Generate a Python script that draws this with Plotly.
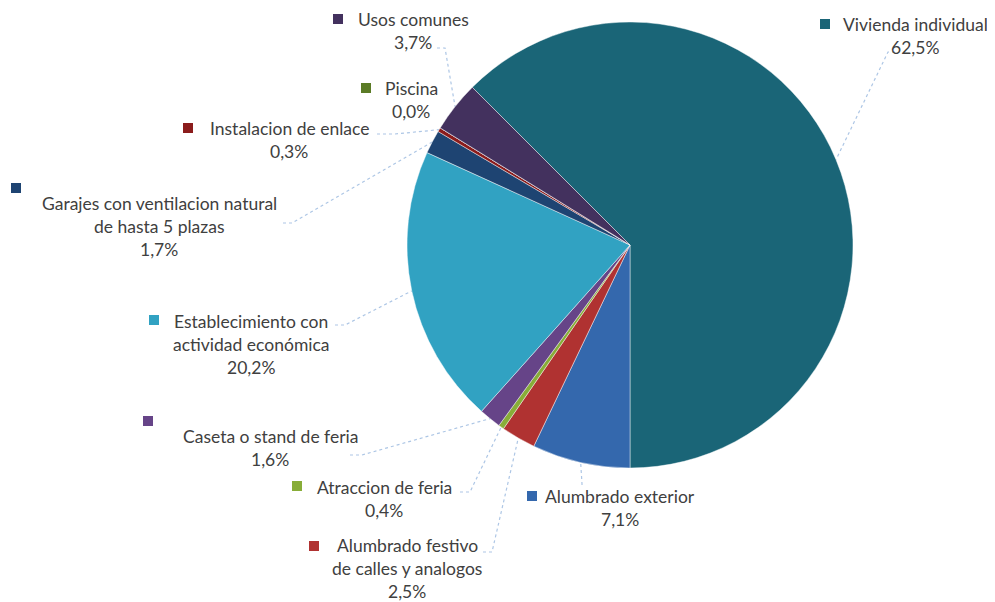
import plotly.graph_objects as go
import numpy as np

# slice data, clockwise from the upper-left edge
labels = [
    "Vivienda individual",
    "Alumbrado exterior",
    "Alumbrado festivo\nde calles y analogos",
    "Atraccion de feria",
    "Caseta o stand de feria",
    "Establecimiento con\nactividad económica",
    "Garajes con ventilacion natural\nde hasta 5 plazas",
    "Instalacion de enlace",
    "Piscina",
    "Usos comunes",
]
values = [62.5, 7.1, 2.5, 0.4, 1.6, 20.2, 1.7, 0.3, 0.0, 3.7]
colors = [
    "#1a6577", "#3468ad", "#b03231", "#88ad38", "#664488",
    "#31a2c2", "#1e4472", "#8b1c1c", "#5b7b26", "#43315e",
]

# ---- layout (pixels of the page) ----
W, H = 995, 602
OFF = 8              # page body margin, compensated so page pixels line up
FW, FH = W - OFF, H - OFF
CX, CY, R = 630, 245, 223
START = -45          # first slice starts 45 deg left of 12 o'clock
LINE_H = 23.3
TEXT_COLOR = "#404040"
FONT = "Lato"
FONT_SIZE = 17.5

# label block: text centre x, first line y, key square x, key square y
label_pos = [
    (915, 24, 825, 24),
    (620, 496, 532, 496),
    (407, 545, 314, 546),
    (384, 487, 297, 486),
    (270, 436, 148, 421),
    (251, 321, 154, 320),
    (159, 203, 16, 188),
    (289, 128, 188, 128),
    (411, 88, 366, 88),
    (413, 19, 338, 19),
]
# leader line: label end point and elbow, None = no leader
leader_pts = [
    [(895, 52), (888, 52)],
    [(582, 485), (582, 484)],
    [(483, 552), (492, 552)],
    [(460, 492), (470, 492)],
    [(350, 455), (362, 455)],
    [(335, 325), (345, 325)],
    [(283, 223), (292, 223)],
    [(377, 134), (395, 134)],
    None,
    [(437, 48), (445, 48)],
]

fig = go.Figure()

fig.add_trace(go.Pie(
    labels=[l.replace("\n", " ") for l in labels],
    values=values,
    sort=False,
    direction="clockwise",
    rotation=START,
    marker=dict(colors=colors, line=dict(color="rgba(255,255,255,0.55)", width=0.8)),
    textinfo="none",
    hoverinfo="label+percent",
    showlegend=False,
    domain=dict(
        x=[(CX - R - OFF) / FW, (CX + R - OFF) / FW],
        y=[1 - (CY + R - OFF) / FH, 1 - (CY - R - OFF) / FH],
    ),
))

# leader lines from slice mid-angle on the rim to the label
total = sum(values)
cum = 0.0
for i, v in enumerate(values):
    mid = START + 360 * (cum + v / 2) / total
    cum += v
    if leader_pts[i] is None:
        continue
    a = np.radians(mid)
    rim = (CX + R * np.sin(a), CY - R * np.cos(a))
    pts = leader_pts[i] + [rim]
    fig.add_trace(go.Scatter(
        x=[p[0] for p in pts], y=[p[1] for p in pts],
        mode="lines", line=dict(color="#adc6e5", width=1.2, dash="dot"),
        hoverinfo="skip", showlegend=False,
    ))

# key squares
fig.add_trace(go.Scatter(
    x=[p[2] for p in label_pos], y=[p[3] for p in label_pos],
    mode="markers",
    marker=dict(symbol="square", size=10, color=colors, line=dict(width=0)),
    hoverinfo="skip", showlegend=False,
))

# label text, one annotation per line
for i, lab in enumerate(labels):
    pct = f"{values[i]:.1f}%".replace(".", ",")
    lines = lab.split("\n") + [pct]
    x, y0 = label_pos[i][0], label_pos[i][1]
    for j, t in enumerate(lines):
        fig.add_annotation(
            x=x, y=y0 + j * LINE_H, text=t, showarrow=False,
            xanchor="center", yanchor="middle",
            font=dict(family=FONT, size=FONT_SIZE, color=TEXT_COLOR),
        )

fig.update_layout(
    width=FW, height=FH,
    margin=dict(l=0, r=0, t=0, b=0),
    paper_bgcolor="white", plot_bgcolor="white",
    xaxis=dict(range=[OFF, W], visible=False, fixedrange=True),
    yaxis=dict(range=[H, OFF], visible=False, fixedrange=True),
)

fig.write_html("out.html")
